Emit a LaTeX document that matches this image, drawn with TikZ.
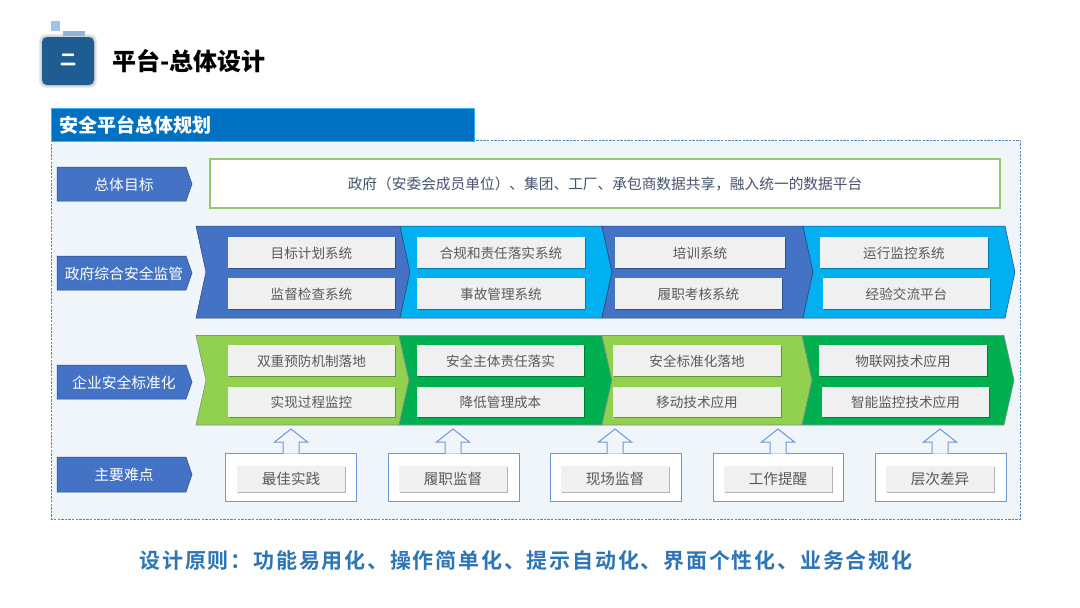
\documentclass[tikz,border=0pt]{standalone}
\usepackage{fontspec}
\setmainfont{Noto Sans CJK SC}
\newfontfamily\spacedbold[LetterSpace=8.5,BoldFont={Noto Sans CJK SC Bold}]{Noto Sans CJK SC}
\usetikzlibrary{shadows,calc}
\definecolor{cblue}{HTML}{4472C4}
\definecolor{ccyan}{HTML}{00B0F0}
\definecolor{clime}{HTML}{92D050}
\definecolor{cgreen}{HTML}{00B050}
\definecolor{chead}{HTML}{0070C0}
\definecolor{cheadline}{HTML}{33B5F5}
\definecolor{cpanel}{HTML}{F0F5FA}
\definecolor{cdash}{HTML}{5B88B5}
\definecolor{cgoal}{HTML}{96C672}
\definecolor{cgoaltext}{HTML}{44546A}
\definecolor{cbox}{HTML}{F0F0F0}
\definecolor{ctext}{HTML}{595959}
\definecolor{coutline}{HTML}{6E97DB}
\definecolor{cicon}{HTML}{1F5C91}
\definecolor{cbottom}{HTML}{2E75B6}
\definecolor{csquare}{HTML}{9DC3E6}
\definecolor{cbar}{HTML}{8FB4D9}
\tikzset{
  x=1pt,y=-1pt,
  sized/.style={font=\fontsize{#1}{#1}\selectfont},
  graybox/.style={draw=none,fill=cbox,text=ctext,sized=13.6,
     inner sep=0pt,anchor=center,text height=13pt,text depth=1pt,
     drop shadow={shadow xshift=.5pt,shadow yshift=-1.4pt,opacity=.3,fill=black}},
  tagtext/.style={text=white,sized=14.8,inner sep=0pt},
  chevblue/.style={draw=black!40!cblue,line width=.5pt},
  chevgreen/.style={draw=black!45,line width=.6pt},
  outlinebox/.style={draw=coutline,line width=1pt,fill=white},
}
% chevron: x-left top, x-right top, top y, bottom y, notch/tip depth, style
\newcommand{\chev}[6]{\draw[#6] (#1,#3) -- (#2,#3) -- ({#2+#5},{(#3+#4)/2}) -- (#2,#4) -- (#1,#4) -- ({#1+#5},{(#3+#4)/2}) -- cycle;}
\newcommand{\tagshape}[4]{% name, top, bottom, text
  \fill[cblue,draw=black!35!cblue,line width=.5pt] (57,#2) -- (186,#2) -- (192,{(#2+#3)/2}) -- (186,#3) -- (57,#3) -- cycle;
  \node[tagtext] (#1) at (124,{(#2+#3)/2+.7}) {#4};}
% box: name, x0, x1, y0, y1, text
\newcommand{\gbox}[6]{\node[graybox,minimum width={(#3-#2)*1pt},minimum height={(#5-#4)*1pt}] (#1) at ({(#2+#3)/2},{(#4+#5)/2}) {#6};}
% difficulty unit: name, x0, x1, center, text
\newcommand{\diffunit}[5]{%
  \draw[outlinebox] (#2,453) rectangle (#3,501);
  \draw[outlinebox,fill=cpanel] ({#4-8},453.6) -- ({#4-8},442) -- ({#4-16.5},442) -- (#4,429) -- ({#4+16.5},442) -- ({#4+8},442) -- ({#4+8},453.6);
  \node[graybox,sized=14.6,minimum width=108pt,minimum height=26pt,text height=12.5pt,text depth=1.5pt] (#1) at (#4,479) {#5};}
\begin{document}
\begin{tikzpicture}
\useasboundingbox (0,0) rectangle (1080,608);
\fill[white] (0,0) rectangle (1080,608);

% title icon
\fill[fill=black!8,rounded corners=7pt] (39,34) rectangle (97,88);
\fill[fill=black!18,rounded corners=6pt] (40.5,35.5) rectangle (95.5,86.5);
\fill[fill=cicon,rounded corners=5pt] (42,37) rectangle (94,85);
\fill[fill=csquare] (51,21) rectangle (60,31);
\fill[fill=cbar] (63,31) rectangle (85,36);
\node[text=white,font=\fontsize{16}{16}\selectfont\bfseries,inner sep=0pt] (iconlabel) at (68,60) {二};
\node[text=black,font=\fontsize{24}{24}\selectfont\bfseries,anchor=west,inner sep=0pt] (title) at (112,61) {平台-总体设计};

% panel
\draw[fill=cpanel,draw=cdash,line width=.8pt,dash pattern=on 2.4pt off 1.2pt] (51.5,140) rectangle (1020,519);
\draw[fill=chead,draw=cheadline,line width=.8pt] (51,108) rectangle (474,141.5);
\node[text=white,font=\fontsize{19}{19}\selectfont\bfseries,anchor=west,inner sep=0pt] (headlabel) at (59,125) {安全平台总体规划};

% goal
\tagshape{tag1}{167}{201}{总体目标}
\node[draw=cgoal,line width=1.2pt,fill=white,minimum width=790pt,minimum height=49pt,text=cgoaltext,sized=14.7,inner sep=0pt,text height=13pt,text depth=1pt] (goal) at (605,183.5) {政府（安委会成员单位）、集团、工厂、承包商数据共享，融入统一的数据平台};

% government row
\tagshape{tag2}{256}{290}{政府综合安全监管}
\chev{196}{400}{226}{318}{10}{chevblue,fill=cblue}
\chev{400}{602}{226}{318}{10}{chevblue,fill=ccyan}
\chev{602}{803}{226}{318}{10}{chevblue,fill=cblue}
\chev{803}{1005}{226}{318}{10}{chevblue,fill=ccyan}
\gbox{g1}{228}{395}{237}{268}{目标计划系统}
\gbox{g2}{228}{395}{278}{309}{监督检查系统}
\gbox{g3}{417}{585}{237}{268}{合规和责任落实系统}
\gbox{g4}{417}{585}{278}{309}{事故管理系统}
\gbox{g5}{615}{785}{237}{268}{培训系统}
\gbox{g6}{615}{782}{278}{309}{履职考核系统}
\gbox{g7}{820}{988}{237}{268}{运行监控系统}
\gbox{g8}{823}{990}{278}{309}{经验交流平台}

% enterprise row
\tagshape{tag3}{365}{399}{企业安全标准化}
\chev{196}{399}{335.5}{425}{10}{chevgreen,fill=clime}
\chev{399}{602}{335.5}{425}{10}{chevgreen,fill=cgreen}
\chev{602}{802}{335.5}{425}{10}{chevgreen,fill=clime}
\chev{802}{1004}{335.5}{425}{10}{chevgreen,fill=cgreen}
\gbox{e1}{228}{395}{345}{376}{双重预防机制落地}
\gbox{e2}{228}{395}{386.5}{417}{实现过程监控}
\gbox{e3}{417}{584}{345}{376}{安全主体责任落实}
\gbox{e4}{417}{584}{386.5}{417}{降低管理成本}
\gbox{e5}{613}{781}{345}{376}{安全标准化落地}
\gbox{e6}{613}{781}{386.5}{417}{移动技术应用}
\gbox{e7}{819}{987}{345}{376}{物联网技术应用}
\gbox{e8}{822}{989}{386.5}{417}{智能监控技术应用}

% difficulties row
\tagshape{tag4}{457}{492}{主要难点}
\diffunit{d1}{225}{356}{291}{最佳实践}
\diffunit{d2}{388}{519}{453}{履职监督}
\diffunit{d3}{550}{681}{615}{现场监督}
\diffunit{d4}{713}{843}{778}{工作提醒}
\diffunit{d5}{875}{1006}{940}{层次差异}

% bottom line
\node[text=cbottom,font=\fontsize{21}{21}\selectfont\spacedbold\bfseries,inner sep=0pt] (principle) at (526,561) {设计原则：功能易用化、操作简单化、提示自动化、界面个性化、业务合规化};
\end{tikzpicture}
\end{document}
